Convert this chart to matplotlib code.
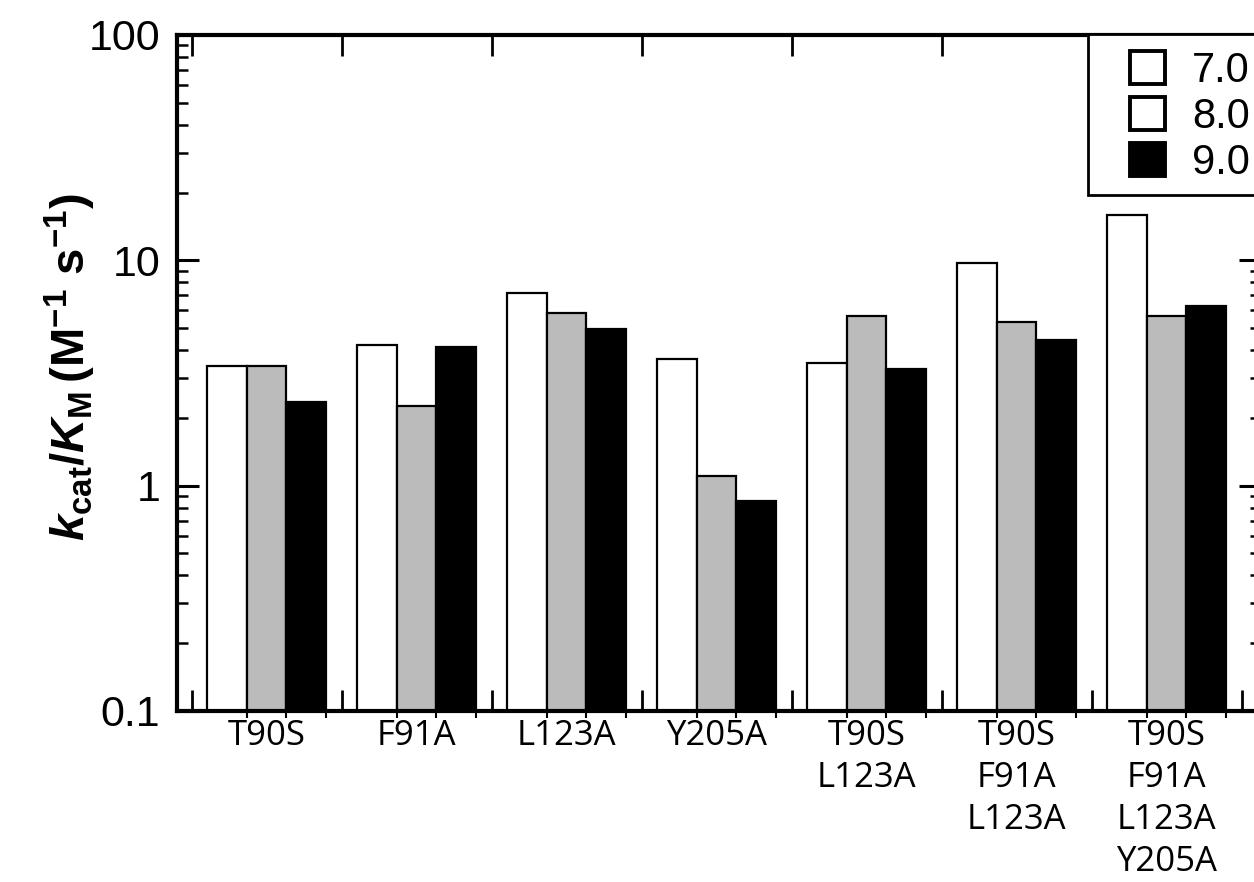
import numpy as np
import matplotlib
matplotlib.use("Agg")
import matplotlib.pyplot as plt
from matplotlib.patches import Patch, Rectangle
from matplotlib.ticker import LogLocator, NullFormatter, FixedLocator
from matplotlib import font_manager as fm

categories = ["T90S", "F91A", "L123A", "Y205A", "T90S\nL123A",
              "T90S\nF91A\nL123A", "T90S\nF91A\nL123A\nY205A"]
ph_labels = ["7.0", "8.0", "9.0"]
vals_ph7 = [3.41, 4.22, 7.18, 3.66, 3.51, 9.75, 15.9]
vals_ph8 = [3.38, 2.26, 5.85, 1.10, 5.67, 5.34, 5.67]
vals_ph9 = [2.36, 4.13, 4.97, 0.858, 3.30, 4.44, 6.28]

names = {f.name for f in fm.fontManager.ttflist}
narrow = "Liberation Sans Narrow" in names
lab_font = "Liberation Sans Narrow" if narrow else "Liberation Sans"
lab_size = 41 if narrow else 34

plt.rcParams['mathtext.fontset'] = 'custom'
plt.rcParams['mathtext.rm'] = lab_font + ':bold'
plt.rcParams['mathtext.bf'] = lab_font + ':bold'
plt.rcParams['mathtext.it'] = lab_font + ':italic:bold'

W, H = 1254, 882
fig = plt.figure(figsize=(W / 100, H / 100), dpi=100)
left, right, top, bottom = 177, 1261, 35, 711
ax = fig.add_axes([left / W, 1 - bottom / H, (right - left) / W, (bottom - top) / H])
ax.set_yscale("log")

x = np.arange(len(categories))
w = 0.265
series = [vals_ph7, vals_ph8, vals_ph9]
colors = ["white", "#bbbbbb", "black"]
for i, (vals, c) in enumerate(zip(series, colors)):
    ax.bar(x + (i - 1) * w, vals, width=w, color=c,
           edgecolor="black", linewidth=1.6, zorder=2)

ax.set_ylim(0.1, 100)
ax.set_xlim(-0.597, 6.63)

# y ticks
ax.yaxis.set_major_locator(FixedLocator([0.1, 1, 10, 100]))
ax.yaxis.set_minor_locator(LogLocator(base=10, subs=np.arange(2, 10)))
ax.yaxis.set_minor_formatter(NullFormatter())
ax.set_yticklabels(["0.1", "1", "10", "100"], fontsize=31, family="Liberation Sans")
ax.tick_params(axis="y", which="major", direction="in", length=16, width=2.2,
               left=True, right=True, pad=12)
ax.tick_params(axis="y", which="minor", direction="in", length=8, width=1.8,
               left=True, right=True)

# x ticks: group boundaries (major, inward) and labels at centers
ax.set_xticks(np.arange(len(categories) + 1) - 0.5)
ax.set_xticklabels([])
ax.tick_params(axis="x", which="major", direction="in", length=15, width=2,
               top=True, bottom=True)
ax.set_xticks(np.concatenate([x - w / 2, x + w / 2, x + 1.5 * w]), minor=True)
ax.tick_params(axis="x", which="minor", direction="out", length=5, width=1.5,
               top=False, bottom=True)
for xi, lab in zip(x, categories):
    ax.text(xi, -0.012, lab, transform=ax.get_xaxis_transform(),
            ha="center", va="top", fontsize=25, family="Open Sans",
            linespacing=1.31)

for s in ax.spines.values():
    s.set_linewidth(3)

# legend frame (extends past the right edge like the reference)
frame = Rectangle((1088 / W, 1 - 195 / H), (1330 - 1088) / W, (195 - 34) / H,
                  transform=fig.transFigure, facecolor="white", edgecolor="black",
                  linewidth=2, zorder=5, clip_on=False)
fig.add_artist(frame)
handles = [Patch(facecolor="white", edgecolor="black", linewidth=2.8),
           Patch(facecolor="white", edgecolor="black", linewidth=2.8),
           Patch(facecolor="black", edgecolor="black", linewidth=2.8)]
leg = fig.legend(handles, ph_labels, loc="center left",
                 bbox_to_anchor=(1130 / W, 1 - 117 / H), bbox_transform=fig.transFigure,
                 borderaxespad=0, borderpad=0, prop={"family": "Liberation Sans", "size": 30},
                 handlelength=0.84, handleheight=0.84, handletextpad=0.65,
                 labelspacing=0.15, frameon=False)
leg.set_zorder(6)

fig.text(70 / W, 1 - 367 / H,
         r'$k_{\mathrm{cat}}/K_{\mathrm{M}}\,(\mathrm{M}^{\mathrm{-1}}\ \mathrm{s}^{\mathrm{-1}})$',
         rotation=90, ha="center", va="center", fontsize=lab_size)

fig.savefig("out.png", dpi=100)
